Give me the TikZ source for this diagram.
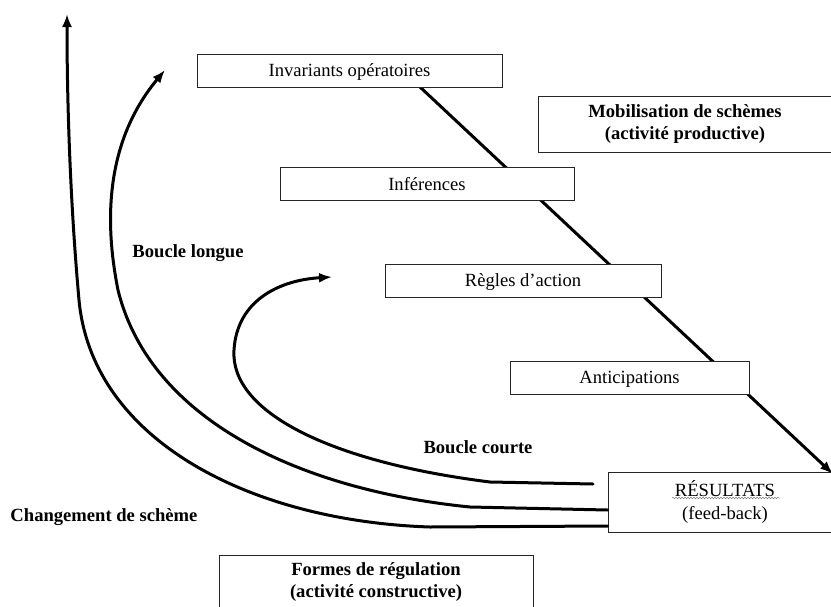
\documentclass[tikz,border=0pt]{standalone}
\usepackage{fontspec}
\setmainfont{Liberation Serif}
\usetikzlibrary{arrows.meta,backgrounds,decorations.pathmorphing}
\begin{document}
\begin{tikzpicture}[x=1pt,y=-1pt,
  box/.style={draw=black!85,line width=1pt,fill=white,inner sep=0pt,align=center,
    font=\fontsize{18.6}{22.5}\selectfont},
  onebox/.style={box,text depth=0pt,minimum height=33pt},
  lbl/.style={font=\fontsize{18.6}{22.5}\selectfont\bfseries},
  loop/.style={line width=3pt,line cap=round},
  tip/.style={-{Latex[length=13pt,width=10pt]}}]
\useasboundingbox (0,0) rectangle (831,606);
\clip (0,0) rectangle (831,606);
% boxes
\node[onebox,minimum width=305pt] (inv) at (349.5,70.5) {Invariants opératoires};
\node[onebox,minimum width=294pt] (inf) at (427,183.5) {Inférences};
\node[onebox,minimum width=276pt] (reg) at (523,280.5) {Règles d’action};
\node[onebox,minimum width=239pt] (ant) at (629.5,377.5) {Anticipations};
\node[box,minimum width=294pt,minimum height=56pt] (mob) at (685,124) {\bfseries Mobilisation de schèmes\\\bfseries (activité productive)};
\node[box,minimum width=234pt,minimum height=60pt] (res) at (725,502) {RÉSULTATS\\(feed-back)};
\node[box,minimum width=314pt,minimum height=54pt] (reg2) at (376,582) {\bfseries Formes de régulation\\\bfseries (activité constructive)};
\draw[black!50,line width=0.5pt,decorate,decoration={snake,amplitude=0.8pt,segment length=3pt}] (672,498) -- (780,498);
% labels
\node[lbl] (bl) at (188,253) {Boucle longue};
\node[lbl] (bc) at (478,447) {Boucle courte};
\node[lbl] (cs) at (104,517) {Changement de schème};
% diagonal line behind boxes
\coordinate (d0) at (420,87);
\coordinate (d1) at (833,474);
\begin{pgfonlayer}{background}
\fill[white] (0,0) rectangle (831,606);
\draw[loop,line cap=butt,tip] (d0) -- (d1);
\end{pgfonlayer}
% loops
\coordinate (outerend) at (res.west |- 0,526);
\coordinate (midend) at (res.west |- 0,510);
\coordinate (innerend) at (593,484);
\coordinate (outertip) at (67,14);
\coordinate (midtip) at (165,70);
\coordinate (innertip) at (332,277);
\draw[loop,tip] (outerend) -- (430,527) .. controls (250,521) and (92,440) .. (79,300)
  .. controls (70,200) and (67,100) .. (outertip);
\draw[loop,tip] (midend) -- (470,507) .. controls (300,490) and (150,420) .. (118,290)
  .. controls (100,200) and (115,130) .. (midtip);
\draw[loop,tip] (innerend) -- (490,482) .. controls (330,462) and (230,412) .. (234,350)
  .. controls (237,300) and (280,280) .. (innertip);
\end{tikzpicture}
\end{document}
